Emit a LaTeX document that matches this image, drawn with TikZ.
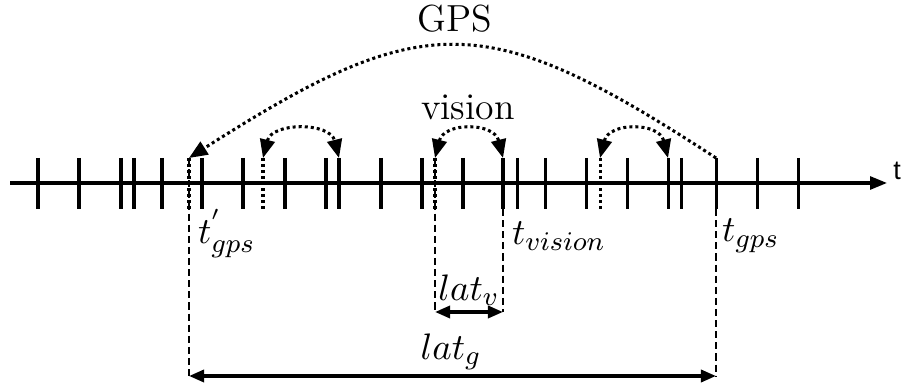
\documentclass[tikz,border=0pt]{standalone}
\usepackage{fontspec}
\usepackage{tikz}
\usetikzlibrary{arrows.meta}
\newfontfamily\axisfont{Liberation Sans}

\begin{document}
\begin{tikzpicture}[
  x=0.297pt, y=-0.297pt,
  tick/.style={line width=0.9pt},
  dottick/.style={line width=0.9pt, dash pattern=on 0.9pt off 0.9pt},
  guide/.style={line width=0.4pt, dash pattern=on 2.1pt off 1.2pt},
  hop/.style={line width=0.9pt, dash pattern=on 0.9pt off 0.9pt},
  span/.style={{Triangle[length=4.5pt,width=3.6pt]}-{Triangle[length=4.5pt,width=3.6pt]},
               line width=1pt},
  lbl/.style={inner sep=1pt, font=\fontsize{11.2}{13}\selectfont}
]
\useasboundingbox (0,0) rectangle (901,383);

% time axis with the sample instants
\coordinate (t0) at (10,183);
\coordinate (t1) at (887,183);
\draw[line width=0.9pt, -{Triangle[length=5pt,width=3.8pt]}] (t0) -- (t1);
\node[inner sep=1pt] (tlab) at (897,171) {\axisfont\footnotesize t};

\foreach \x in {38,79,121,134,162,202,243,285,326,339,381,422,463,503,517,545,586,627,668,681,716,757,798}
  \draw[tick] (\x,158) -- (\x,209);
\foreach \x in {189,263,435,600}
  \draw[dottick] (\x,158) -- (\x,209);

\coordinate (gpsB) at (189,158);
\coordinate (gpsA) at (716,158);
\coordinate (v1a) at (263,158);
\coordinate (v1b) at (339,158);
\coordinate (v2a) at (435,158);
\coordinate (v2b) at (503,158);
\coordinate (v3a) at (600,158);
\coordinate (v3b) at (668,158);

% GPS and vision delays
\draw[hop, -{Triangle[length=5.5pt,width=4.4pt]}] (gpsA) .. controls +(-230,-150) and +(235,-150) .. (gpsB);
\draw[hop, {Triangle[length=5.5pt,width=4.4pt]}-{Triangle[length=5.5pt,width=4.4pt]}] (v1a) .. controls +(9,-36) and +(-9,-36) .. (v1b);
\draw[hop, {Triangle[length=5.5pt,width=4.4pt]}-{Triangle[length=5.5pt,width=4.4pt]}] (v2a) .. controls +(9,-36) and +(-9,-36) .. (v2b);
\draw[hop, {Triangle[length=5.5pt,width=4.4pt]}-{Triangle[length=5.5pt,width=4.4pt]}] (v3a) .. controls +(9,-36) and +(-9,-36) .. (v3b);
\node[lbl] (gps) at (455,19) {GPS};
\node[lbl] (vis) at (468,107) {vision};

% latency brackets
\coordinate (lgL) at (189,376);
\coordinate (lgR) at (716,376);
\coordinate (lvL) at (435,312);
\coordinate (lvR) at (503,312);
\coordinate (bv) at (503,209);
\coordinate (bg) at (716,209);
\draw[guide] (gpsB) -- (lgL);
\draw[guide] (v2a) -- (lvL);
\draw[guide] (bv) -- (lvR);
\draw[guide] (bg) -- (lgR);
\draw[span] (lvL) -- (lvR);
\draw[span] (lgL) -- (lgR);
\node[lbl] (latv) at (469,290) {$lat_v$};
\node[lbl] (latg) at (451,352) {$lat_g$};

\node[lbl, anchor=west] (tgp) at (194,234) {$t_{gps}^{'}$};
\node[lbl, anchor=west] (tvis) at (508,236) {$t_{vision}$};
\node[lbl, anchor=west] (tgps) at (718,236) {$t_{gps}$};
\end{tikzpicture}
\end{document}
